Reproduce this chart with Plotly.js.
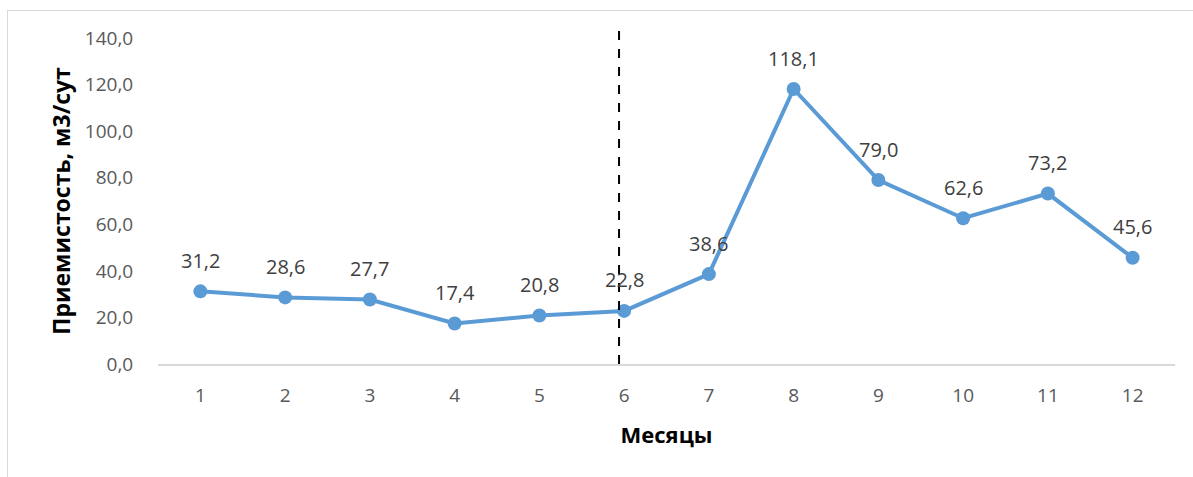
<!DOCTYPE html>
<html>
<head>
<meta charset="utf-8">
<script src="https://cdn.plot.ly/plotly-3.0.1.min.js"></script>
<style>
html,body{margin:0;padding:0;background:#fff;}
#frame{position:absolute;left:7px;top:10px;width:1200px;height:480px;border-left:1px solid #d9d9d9;border-top:1px solid #d9d9d9;}
#chart{position:absolute;left:0;top:0;width:1193px;height:477px;}
</style>
</head>
<body>
<div id="frame"></div>
<div id="chart"></div>
<script>
var months = ['1','2','3','4','5','6','7','8','9','10','11','12'];
var injectivity = [31.2, 28.6, 27.7, 17.4, 20.8, 22.8, 38.6, 118.1, 79.0, 62.6, 73.2, 45.6];
var yTicks = [0, 20, 40, 60, 80, 100, 120, 140];

function fmt(v) { return v.toFixed(1).replace('.', ','); }

var trace = {
  x: months,
  y: injectivity,
  type: 'scatter',
  mode: 'lines+markers',
  line: {color: '#5B9BD5', width: 4},
  marker: {color: '#5B9BD5', size: 14},
  cliponaxis: false,
  hoverinfo: 'none'
};

var annotations = months.map(function (m, i) {
  return {
    x: i, y: injectivity[i], xref: 'x', yref: 'y',
    text: fmt(injectivity[i]),
    showarrow: false,
    yshift: 31,
    font: {family: 'Open Sans, sans-serif', size: 20, color: '#404040'}
  };
});

var layout = {
  width: 1193, height: 477,
  margin: {l: 158, r: 18, t: 38, b: 113},
  paper_bgcolor: 'rgba(0,0,0,0)',
  plot_bgcolor: 'rgba(0,0,0,0)',
  separators: ', ',
  showlegend: false,
  font: {family: 'Open Sans, sans-serif', color: '#595959'},
  xaxis: {
    type: 'category',
    range: [-0.5, 11.5],
    showgrid: false,
    zeroline: false,
    showline: true,
    linecolor: '#d9d9d9',
    linewidth: 2,
    ticks: 'outside',
    ticklen: 13,
    tickcolor: 'rgba(0,0,0,0)',
    tickfont: {size: 19, color: '#595959'},
    title: {text: 'Месяцы', font: {size: 22, color: '#000', weight: 'bold'}, standoff: 21}
  },
  yaxis: {
    range: [0, 140],
    tickvals: yTicks,
    tickformat: '.1f',
    showgrid: false,
    zeroline: false,
    showline: false,
    ticks: 'outside',
    ticklen: 20,
    tickcolor: 'rgba(0,0,0,0)',
    tickfont: {size: 19, color: '#595959'},
    title: {text: 'Приемистость, м3/сут', font: {size: 23, color: '#000', weight: 'bold'}, standoff: 7}
  },
  annotations: annotations,
  shapes: [{
    type: 'line', xref: 'x', yref: 'paper',
    x0: 4.94, x1: 4.94, y0: 0, y1: 1.031,
    line: {color: '#000', width: 2, dash: 'dash'}
  }]
};

Plotly.newPlot('chart', [trace], layout, {displayModeBar: false, staticPlot: true});
</script>
</body>
</html>
